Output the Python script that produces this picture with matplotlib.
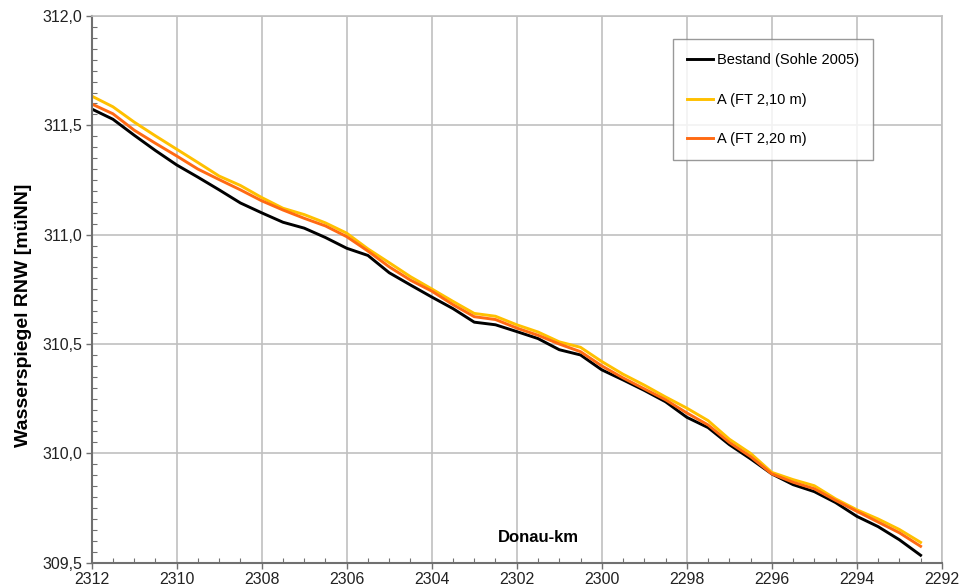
import matplotlib.pyplot as plt
from matplotlib.ticker import MultipleLocator, FuncFormatter

plt.rcParams['font.family'] = ['Liberation Sans', 'DejaVu Sans']

# Donau-km stations
km = [2312.0, 2311.5, 2311.0, 2310.5, 2310.0, 2309.5, 2309.0, 2308.5, 2308.0, 2307.5,
      2307.0, 2306.5, 2306.0, 2305.5, 2305.0, 2304.5, 2304.0, 2303.5, 2303.0, 2302.5,
      2302.0, 2301.5, 2301.0, 2300.5, 2300.0, 2299.5, 2299.0, 2298.5, 2298.0, 2297.5,
      2297.0, 2296.5, 2296.0, 2295.5, 2295.0, 2294.5, 2294.0, 2293.5, 2293.0, 2292.5]

bestand = [311.575, 311.528, 311.455, 311.385, 311.319, 311.263, 311.205, 311.145, 311.100, 311.057,
           311.030, 310.987, 310.938, 310.905, 310.826, 310.770, 310.715, 310.662, 310.600, 310.588,
           310.557, 310.525, 310.474, 310.450, 310.382, 310.336, 310.288, 310.236, 310.165, 310.118,
           310.040, 309.975, 309.906, 309.857, 309.825, 309.775, 309.712, 309.665, 309.605, 309.534]

ft_210 = [311.634, 311.585, 311.515, 311.452, 311.391, 311.330, 311.268, 311.225, 311.170, 311.121,
          311.092, 311.054, 311.007, 310.935, 310.872, 310.808, 310.752, 310.695, 310.640, 310.627,
          310.588, 310.555, 310.510, 310.485, 310.420, 310.362, 310.312, 310.258, 310.207, 310.150,
          310.065, 310.000, 309.913, 309.880, 309.852, 309.792, 309.742, 309.700, 309.652, 309.593]

ft_220 = [311.598, 311.553, 311.478, 311.418, 311.360, 311.300, 311.252, 311.205, 311.155, 311.113,
          311.075, 311.040, 310.991, 310.925, 310.853, 310.792, 310.742, 310.680, 310.625, 310.612,
          310.573, 310.540, 310.500, 310.465, 310.400, 310.345, 310.295, 310.245, 310.185, 310.130,
          310.050, 309.985, 309.906, 309.868, 309.838, 309.785, 309.735, 309.686, 309.637, 309.575]

labels = ["Bestand (Sohle 2005)", "A (FT 2,10 m)", "A (FT 2,20 m)"]
colors = ["#000000", "#FFC000", "#FF6A13"]

fig = plt.figure(figsize=(9.75, 5.87), dpi=100)
ax = fig.add_axes([0.094, 0.0414, 0.872, 0.9313])

for y, lab, c in zip([bestand, ft_210, ft_220], labels, colors):
    ax.plot(km, y, color=c, lw=2.1, label=lab)

ax.set_xlim(2312, 2292)
ax.set_ylim(309.5, 312.0)
ax.xaxis.set_major_locator(MultipleLocator(2))
ax.xaxis.set_minor_locator(MultipleLocator(0.5))
ax.yaxis.set_major_locator(MultipleLocator(0.5))
ax.yaxis.set_minor_locator(MultipleLocator(0.05))
ax.xaxis.set_major_formatter(FuncFormatter(lambda v, p: f"{v:.0f}"))
ax.yaxis.set_major_formatter(FuncFormatter(lambda v, p: f"{v:.1f}".replace(".", ",")))
ax.tick_params(which='major', direction='out', length=4.5, width=1.0, color='#707070',
               labelsize=11.5, labelcolor='#222222', pad=2)
ax.tick_params(which='minor', direction='in', length=3.5, width=0.8, color='#707070')

ax.grid(True, which='major', color='#C0C0C0', lw=1.2)
ax.set_axisbelow(True)
for s in ['top', 'right']:
    ax.spines[s].set_color('#C0C0C0')
    ax.spines[s].set_linewidth(1.2)
for s in ['left', 'bottom']:
    ax.spines[s].set_color('#707070')
    ax.spines[s].set_linewidth(1.5)

fig.text(0.024, 0.463, "Wasserspiegel RNW [müNN]", rotation=90, fontsize=14,
         fontweight='bold', ha='center', va='center')
fig.text(0.552, 0.085, "Donau-km", fontsize=12, fontweight='bold', ha='center', va='center')

leg = ax.legend(loc='upper left', bbox_to_anchor=(0.6840, 0.9575), fontsize=10.5,
                frameon=True, fancybox=False, edgecolor='#808080', borderpad=0.95,
                labelspacing=1.75, handlelength=1.8, handletextpad=0.25, borderaxespad=0)
leg.get_frame().set_linewidth(1.0)

fig.savefig("out.png", dpi=100)
